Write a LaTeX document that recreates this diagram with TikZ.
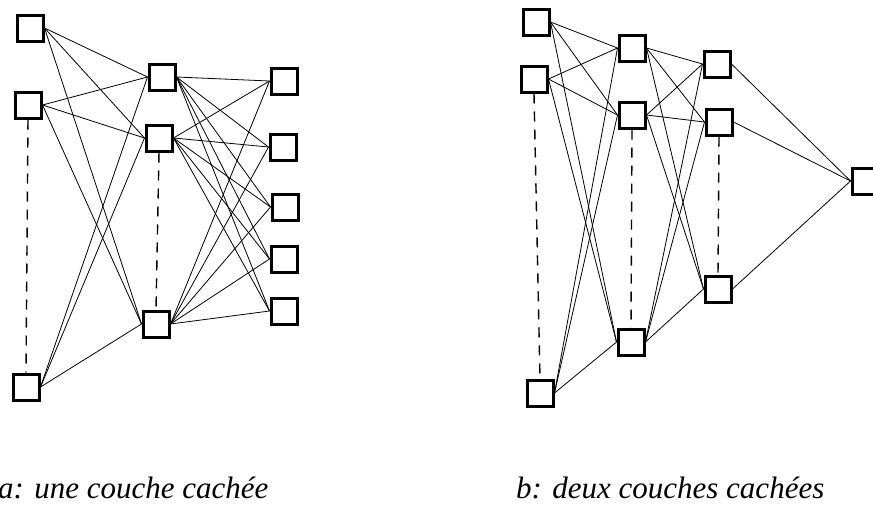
\documentclass[tikz,border=0pt]{standalone}
\usepackage{fontspec}
\setmainfont{Liberation Serif}
\begin{document}
\begin{tikzpicture}[x=1pt,y=-1pt,
  unit/.style={draw=black,fill=white,line width=3pt,minimum size=26pt,inner sep=0pt},
  link/.style={draw=black,line width=0.8pt},
  dots/.style={draw=black,line width=1.4pt,dash pattern=on 10pt off 8pt},
  caption/.style={anchor=base west,inner sep=0pt,font=\itshape\fontsize{31}{37}\selectfont}]
\useasboundingbox (0,0) rectangle (873,507);
% network a
\node[unit] (ia1) at (30,28) {};
\node[unit] (ia2) at (28,105) {};
\node[unit] (ia3) at (26,387) {};
\node[unit] (ha1) at (162,77) {};
\node[unit] (ha2) at (159,138) {};
\node[unit] (ha3) at (156,324) {};
\node[unit] (oa1) at (284,81) {};
\node[unit] (oa2) at (283,147) {};
\node[unit] (oa3) at (285,207) {};
\node[unit] (oa4) at (284,259) {};
\node[unit] (oa5) at (284,311) {};
\foreach \i in {1,2,3}{
  \foreach \h in {1,2,3}{\draw[link] (ia\i.east) -- (ha\h.west);}
}
\foreach \h in {1,2,3}{
  \foreach \o in {1,...,5}{\draw[link] (ha\h.east) -- (oa\o.west);}
}
\draw[dots] (ia2.south) -- (ia3.north);
\draw[dots] (ha2.south) -- (ha3.north);
% network b
\node[unit] (ib1) at (536,22) {};
\node[unit] (ib2) at (534,79) {};
\node[unit] (ib3) at (540,393) {};
\node[unit] (hb1) at (632,48) {};
\node[unit] (hb2) at (632,115) {};
\node[unit] (hb3) at (631,342) {};
\node[unit] (gb1) at (717,64) {};
\node[unit] (gb2) at (719,122) {};
\node[unit] (gb3) at (718,289) {};
\node[unit] (ob) at (865,181) {};
\foreach \i in {1,2,3}{
  \foreach \h in {1,2,3}{\draw[link] (ib\i.east) -- (hb\h.west);}
}
\foreach \h in {1,2,3}{
  \foreach \g in {1,2,3}{\draw[link] (hb\h.east) -- (gb\g.west);}
}
\foreach \g in {1,2,3}{\draw[link] (gb\g.east) -- (ob.west);}
\draw[dots] (ib2.south) -- (ib3.north);
\draw[dots] (hb2.south) -- (hb3.north);
\draw[dots] (gb2.south) -- (gb3.north);
% captions
\node[caption] (capa) at (-2,498) {a: une couche cachée};
\node[caption] (capb) at (516,498) {b: deux couches cachées};
\end{tikzpicture}
\end{document}
